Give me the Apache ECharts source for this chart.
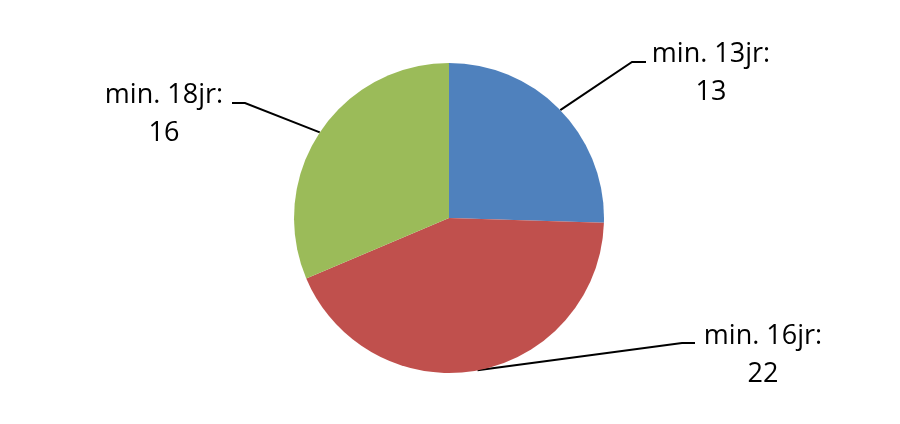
<!DOCTYPE html>
<html>
<head>
<meta charset="utf-8">
<script src="https://cdn.jsdelivr.net/npm/echarts@6/dist/echarts.min.js"></script>
<style>
html,body{margin:0;padding:0;background:#fff;}
#chart{width:900px;height:424px;}
</style>
</head>
<body>
<div id="chart"></div>
<script>
const categories = ['min. 13jr', 'min. 16jr', 'min. 18jr'];
const values = [13, 22, 16];
const colors = ['#4F81BD', '#C0504D', '#9BBB59'];

// label placement (layout only): text block centre, elbow and end of leader line
const labelPlaces = [
  { x: 711, y: 73, elbow: [632, 62], end: [646, 62] },
  { x: 763, y: 355, elbow: [682, 343], end: [695, 343] },
  { x: 164, y: 114, elbow: [245, 103], end: [232, 103] }
];

const chart = echarts.init(document.getElementById('chart'), null, { renderer: 'canvas' });
chart.setOption({
  animation: false,
  backgroundColor: '#ffffff',
  series: [{
    type: 'pie',
    center: [449, 218],
    radius: 155,
    startAngle: 90,
    clockwise: true,
    data: categories.map((c, i) => ({ name: c, value: values[i], itemStyle: { color: colors[i] } })),
    itemStyle: { borderWidth: 0 },
    emphasis: { disabled: true },
    label: {
      show: true,
      position: 'outside',
      formatter: '{b}:\n{c}',
      fontFamily: '"Open Sans", sans-serif',
      fontSize: 27,
      lineHeight: 38,
      color: '#000',
      align: 'center'
    },
    labelLine: {
      show: true,
      length: 20,
      length2: 10,
      smooth: false,
      lineStyle: { color: '#000', width: 2 }
    },
    labelLayout: function (params) {
      const p = labelPlaces[params.dataIndex];
      const start = params.labelLinePoints ? params.labelLinePoints[0] : p.elbow;
      return {
        x: p.x,
        y: p.y,
        align: 'center',
        verticalAlign: 'middle',
        labelLinePoints: [start, p.elbow, p.end]
      };
    }
  }]
});
</script>
</body>
</html>
